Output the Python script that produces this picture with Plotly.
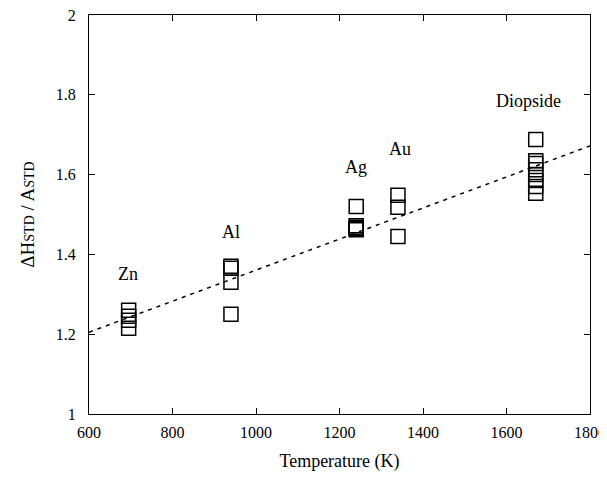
import plotly.graph_objects as go

# Data
zn_T = [695, 695, 695, 695]
zn_v = [1.26, 1.245, 1.235, 1.215]
al_T = [940, 940, 940, 940]
al_v = [1.37, 1.365, 1.33, 1.25]
ag_T = [1240, 1240, 1240, 1240, 1240]
ag_v = [1.52, 1.472, 1.468, 1.465, 1.462]
au_T = [1340, 1340, 1340]
au_v = [1.548, 1.518, 1.445]
di_T = [1670, 1670, 1670, 1670, 1670, 1670, 1670, 1670]
di_v = [1.688, 1.635, 1.628, 1.612, 1.600, 1.585, 1.570, 1.553]

fit_T = [600, 1800]
fit_v = [1.205, 1.672]

labels = ["Zn", "Al", "Ag", "Au", "Diopside"]
label_T = [693, 940, 1240, 1345, 1652]
label_v = [1.352, 1.456, 1.618, 1.665, 1.785]

x_ticks = [600, 800, 1000, 1200, 1400, 1600, 1800]
y_ticks = [1, 1.2, 1.4, 1.6, 1.8, 2]
y_ticktext = ["1", "1.2", "1.4", "1.6", "1.8", "2"]

FONT = "Liberation Serif, Times New Roman, serif"

fig = go.Figure()
fig.add_trace(go.Scatter(x=fit_T, y=fit_v, mode="lines",
                         line=dict(color="black", width=1.5, dash="4px,5px"),
                         hoverinfo="skip", showlegend=False))
for T, v in [(zn_T, zn_v), (al_T, al_v), (ag_T, ag_v), (au_T, au_v), (di_T, di_v)]:
    fig.add_trace(go.Scatter(x=T, y=v, mode="markers",
                             marker=dict(symbol="square-open", size=14,
                                         color="black", line=dict(width=1.5, color="black")),
                             showlegend=False))

for t, xv, yv in zip(labels, label_T, label_v):
    fig.add_annotation(x=xv, y=yv, text=t, showarrow=False,
                       font=dict(family=FONT, size=18, color="black"))

fig.update_layout(
    width=607, height=478,
    margin=dict(l=81, r=25, t=7, b=72),
    plot_bgcolor="white", paper_bgcolor="white",
    font=dict(family=FONT, size=16, color="black"),
    xaxis=dict(range=[600, 1800], tickvals=x_ticks, ticks="inside", ticklen=6,
               tickwidth=1, tickcolor="black", showline=True, linecolor="black",
               linewidth=1.2, mirror="allticks", showgrid=False, zeroline=False,
               automargin=False,
               ticklabeloverflow="allow", ticklabelstandoff=4,
               title=dict(text="Temperature (K)", font=dict(family=FONT, size=18), standoff=14),
               tickfont=dict(family=FONT, size=16)),
    yaxis=dict(range=[1, 2], tickvals=y_ticks, ticktext=y_ticktext, ticks="inside",
               ticklen=6, tickwidth=1, tickcolor="black", showline=True,
               linecolor="black", linewidth=1.2, mirror="allticks", showgrid=False,
               zeroline=False, automargin=False,
               ticklabeloverflow="allow", ticklabelstandoff=9,
               title=dict(text="ΔH<span style='font-size:14px'>STD</span> / A<span style='font-size:14px'>STD</span>",
                          font=dict(family=FONT, size=19), standoff=16),
               tickfont=dict(family=FONT, size=16)),
)

fig.write_html("out.html")
